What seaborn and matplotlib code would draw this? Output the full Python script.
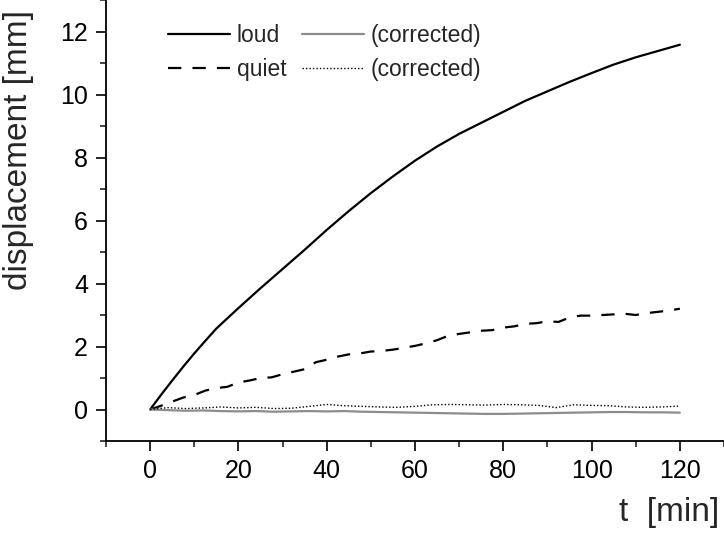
import numpy as np
import pandas as pd
import seaborn as sns
import matplotlib.pyplot as plt
from matplotlib.ticker import MultipleLocator

# values (mm vs minutes)
t_main = [0, 2.5, 5, 7.5, 10, 12.5, 15, 20, 25, 30, 35, 40, 45, 50, 55, 60,
          65, 70, 75, 80, 85, 90, 95, 100, 105, 110, 115, 120]
loud = [0.0, 0.47, 0.92, 1.36, 1.78, 2.18, 2.57, 3.22, 3.85, 4.46, 5.07, 5.7, 6.3, 6.87, 7.4, 7.9,
        8.35, 8.75, 9.1, 9.45, 9.8, 10.1, 10.4, 10.68, 10.95, 11.18, 11.38, 11.58]

t_quiet = [0, 2.5, 5, 7.5, 10, 12.5, 15, 17.5, 20, 22.5, 25, 27.5, 30, 32.5,
           35, 37.5, 40, 42.5, 45, 47.5, 50, 52.5, 55, 57.5, 60, 62.5, 65,
           67.5, 70, 72.5, 75, 77.5, 80, 82.5, 85, 87.5, 90, 92.5, 95, 97.5,
           100, 102.5, 105, 107.5, 110, 112.5, 115, 117.5, 120]
quiet = [0.0, 0.12, 0.25, 0.38, 0.46, 0.6, 0.68, 0.72, 0.86, 0.92, 1.0, 1.02,
         1.12, 1.2, 1.28, 1.5, 1.58, 1.68, 1.75, 1.78, 1.84, 1.86, 1.9, 1.96,
         2.02, 2.1, 2.2, 2.34, 2.4, 2.45, 2.5, 2.52, 2.6, 2.64, 2.72, 2.74,
         2.8, 2.78, 2.92, 2.98, 2.98, 3.0, 3.02, 3.04, 3.0, 3.06, 3.1, 3.14, 3.2]

t_corr = [0, 4, 8, 12, 16, 20, 24, 28, 32, 36, 40, 44, 48, 52, 56, 60,
          64, 68, 72, 76, 80, 84, 88, 92, 96, 100, 104, 108, 112, 116, 120]
loud_corr = [0.0, -0.02, -0.04, -0.03, -0.05, -0.06, -0.05, -0.07, -0.06, -0.05,
             -0.06, -0.05, -0.07, -0.08, -0.09, -0.1, -0.11, -0.12, -0.13, -0.14,
             -0.14, -0.13, -0.12, -0.11, -0.1, -0.09, -0.08, -0.08, -0.09, -0.09, -0.1]
quiet_corr = [0.0, 0.06, 0.03, 0.05, 0.08, 0.05, 0.07, 0.03, 0.04, 0.1, 0.16,
              0.12, 0.1, 0.08, 0.07, 0.1, 0.15, 0.16, 0.15, 0.14, 0.16, 0.15,
              0.13, 0.06, 0.15, 0.13, 0.12, 0.08, 0.07, 0.08, 0.11]

sns.set_style("white")
plt.rcParams["font.family"] = ["Liberation Sans", "DejaVu Sans"]

fig = plt.figure(figsize=(7.24, 5.33), dpi=100)
ax = fig.add_axes([0.1464, 0.1726, 0.8536, 0.8274])

sns.lineplot(x=t_main, y=loud, ax=ax, color="black", lw=1.6, label="loud")
sns.lineplot(x=t_quiet, y=quiet, ax=ax, color="black", lw=1.6, ls=(0, (6, 5)), label="quiet")
sns.lineplot(x=t_corr, y=loud_corr, ax=ax, color="#8c8c8c", lw=1.6, label="(corrected)")
sns.lineplot(x=t_corr, y=quiet_corr, ax=ax, color="black", lw=1.0, ls=(0, (1, 1.5)), label="(corrected)")

ax.set_xlim(-10, 130)
ax.set_ylim(-1, 13)
ax.xaxis.set_major_locator(MultipleLocator(20))
ax.xaxis.set_minor_locator(MultipleLocator(10))
ax.yaxis.set_major_locator(MultipleLocator(2))
ax.yaxis.set_minor_locator(MultipleLocator(1))
ax.tick_params(which="major", direction="out", length=7, width=1.2, labelsize=18,
               left=True, bottom=True, colors="black", pad=6)
ax.tick_params(which="minor", direction="out", length=4, width=1.2, left=True, bottom=True)

for side in ["top", "right"]:
    ax.spines[side].set_visible(False)
for side in ["left", "bottom"]:
    ax.spines[side].set_linewidth(1.3)
    ax.spines[side].set_color("black")

ax.set_ylabel("displacement [mm]", fontsize=24)
ax.yaxis.set_label_coords(-0.1165, 0.66)
ax.set_xlabel("t  [min]", fontsize=24, loc="right")
ax.xaxis.set_label_coords(0.992, -0.127)

handles, labels = ax.get_legend_handles_labels()
ax.legend(handles, labels, ncol=2, frameon=False, fontsize=16.5,
          loc="upper left", bbox_to_anchor=(0.1, 0.945), borderpad=0, borderaxespad=0,
          handlelength=2.7, handletextpad=0.3, columnspacing=0.7, labelspacing=0.45)

plt.savefig("out.png", dpi=100)
